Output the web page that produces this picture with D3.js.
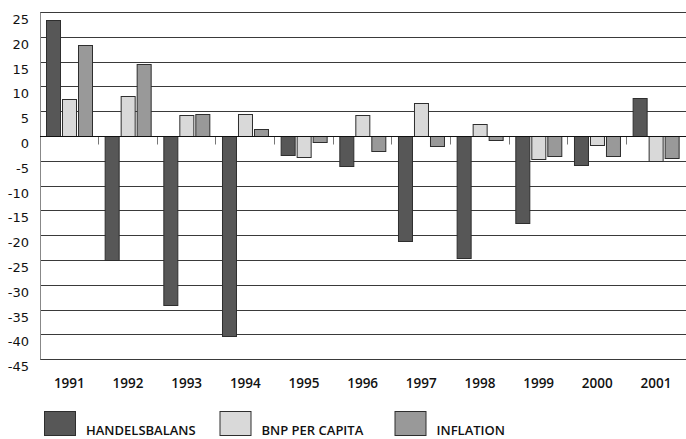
<!DOCTYPE html>
<html>
<head>
<meta charset="utf-8">
<script src="https://cdn.jsdelivr.net/npm/d3@7"></script>
<style>
  html, body { margin: 0; padding: 0; background: #fff; }
  svg { display: block; }
</style>
</head>
<body>
<svg id="chart" width="686" height="439"></svg>
<script>
const years = ["1991","1992","1993","1994","1995","1996","1997","1998","1999","2000","2001"];
const seriesNames = ["HANDELSBALANS", "BNP PER CAPITA", "INFLATION"];
const handelsbalans = [23.4, -25, -34, -40.3, -3.9, -6.1, -21.2, -24.5, -17.5, -5.8, 7.7];
const bnpPerCapita = [7.4, 8.1, 4.2, 4.4, -4.2, 4.2, 6.7, 2.5, -4.7, -1.8, -5.0];
const inflation = [18.3, 14.5, 4.4, 1.35, -1.3, -3.0, -2.0, -0.9, -4.0, -4.1, -4.5];
const yTicks = [25, 20, 15, 10, 5, 0, -5, -10, -15, -20, -25, -30, -35, -40, -45];
const colors = ["#575757", "#d9d9d9", "#999999"];

const seriesValues = [handelsbalans, bnpPerCapita, inflation];
const data = years.map((yr, i) => ({
  year: yr,
  values: seriesNames.map((s, k) => ({ key: s, value: seriesValues[k][i] }))
}));

const svg = d3.select("#chart");
const plotLeft = 40, plotRight = 685.3, plotTop = 12, plotBottom = 359.3;

const x0 = d3.scaleBand().domain(years).range([plotLeft, plotRight]).padding(0);
const x1 = d3.scaleBand().domain(seriesNames)
  .range([6, x0.bandwidth() - 6]).paddingInner(0.1).paddingOuter(0);
const y = d3.scaleLinear().domain([-45, 25]).range([plotBottom, plotTop]);

const crisp = v => Math.round(v) + 0.5;

// gridlines
svg.append("g").selectAll("line").data(yTicks).join("line")
  .attr("x1", plotLeft).attr("x2", 686)
  .attr("y1", d => crisp(y(d))).attr("y2", d => crisp(y(d)))
  .attr("stroke", "#3a3a3a").attr("stroke-width", 1);

// left axis line
svg.append("line")
  .attr("x1", crisp(plotLeft)).attr("x2", crisp(plotLeft))
  .attr("y1", crisp(y(25))).attr("y2", crisp(y(-45)))
  .attr("stroke", "#888");

// y tick labels
svg.append("g").selectAll("text").data(yTicks).join("text")
  .attr("x", 29).attr("y", d => y(d) + 7.5)
  .attr("text-anchor", "end").attr("dominant-baseline", "central")
  .attr("font-family", "DejaVu Sans").attr("font-size", 13).attr("fill", "#111")
  .text(d => d);

// category tick marks under zero line
svg.append("g").selectAll("line").data(years.slice(1)).join("line")
  .attr("x1", d => crisp(x0(d) - 0.5)).attr("x2", d => crisp(x0(d) - 0.5))
  .attr("y1", crisp(y(0))).attr("y2", crisp(y(0)) + 8)
  .attr("stroke", "#777");

// bars
const groups = svg.append("g").selectAll("g").data(data).join("g")
  .attr("transform", d => `translate(${x0(d.year)},0)`);
groups.selectAll("rect").data(d => d.values).join("rect")
  .attr("x", d => Math.round(x1(d.key)) + 0.5)
  .attr("width", Math.round(x1.bandwidth()))
  .attr("y", d => Math.round(y(Math.max(0, d.value))) + 0.5)
  .attr("height", d => Math.max(1, Math.round(Math.abs(y(d.value) - y(0)))))
  .attr("fill", (d, i) => colors[i])
  .attr("stroke", "#2e2e2e").attr("stroke-width", 1);

// zero line on top
svg.append("line")
  .attr("x1", plotLeft).attr("x2", 686)
  .attr("y1", crisp(y(0))).attr("y2", crisp(y(0)))
  .attr("stroke", "#111");

// year labels
svg.append("g").selectAll("text").data(years).join("text")
  .attr("x", d => x0(d) + x0.bandwidth() / 2).attr("y", 387.5)
  .attr("text-anchor", "middle")
  .attr("font-family", "Open Sans").attr("font-size", 13.5).attr("font-weight", 600).attr("fill", "#111")
  .text(d => d);

// legend
const legendX = [44, 219.5, 394.5];
const leg = svg.append("g").selectAll("g").data(seriesNames).join("g")
  .attr("transform", (d, i) => `translate(${legendX[i]},0)`);
leg.append("rect")
  .attr("x", 0.5).attr("y", 411.5).attr("width", 31).attr("height", 24)
  .attr("fill", (d, i) => colors[i]).attr("stroke", "#2e2e2e");
leg.append("text")
  .attr("x", 42).attr("y", 435)
  .attr("font-family", "Open Sans").attr("font-size", 13).attr("font-weight", 600).attr("fill", "#111")
  .text(d => d);
</script>
</body>
</html>
